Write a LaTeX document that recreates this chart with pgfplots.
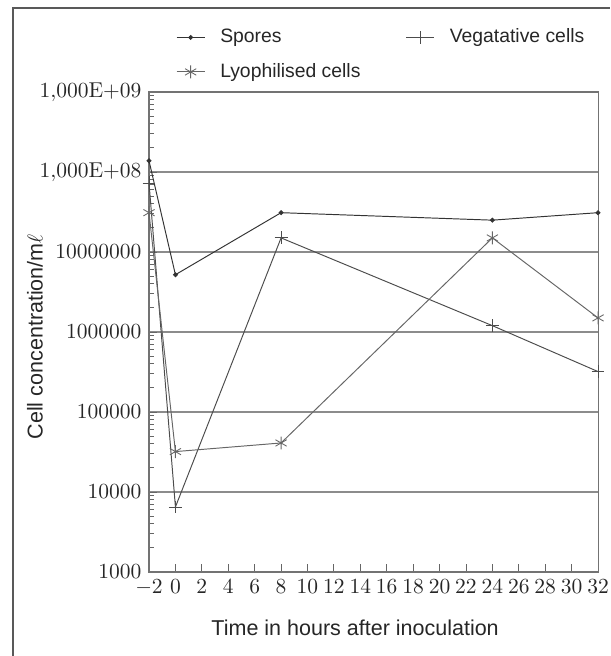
\documentclass[border=0pt]{standalone}
\usepackage{pgfplots}
\pgfplotsset{compat=1.18}
\usepackage[no-math]{fontspec}
\setmainfont{Liberation Sans}
\begin{document}
\begin{tikzpicture}
\useasboundingbox (0,0) rectangle (283.65pt,305.04pt);
\draw[line width=1.1pt, black!65] (6.0pt,0pt) -- (6.0pt,301.3pt) -- (283.65pt,301.3pt);
\begin{axis}[
  at={(69.29pt,39.06pt)}, anchor=south west,
  scale only axis, width=208.8pt, height=223.2pt,
  ymode=log, xmin=-2, xmax=32, ymin=1e3, ymax=1e9,
  xtick={-2,0,2,...,32},
  ytick={1e3,1e4,1e5,1e6,1e7,1e8,1e9},
  yticklabels={$1000$,$10000$,$100000$,$1000000$,$10000000$,$1{,}000\mathrm{E}{+}08$,$1{,}000\mathrm{E}{+}09$},
  tick align=inside,
  major tick length=3.5pt, minor tick length=2.2pt,
  xtick pos=bottom, ytick pos=left,
  tick style={black!60, line width=0.4pt},
  ymajorgrids, grid style={black!45, line width=0.5pt},
  axis line style={black!55, line width=0.5pt},
  tick label style={font=\fontsize{10}{12}\selectfont, black!85},
  xlabel={Time in hours after inoculation},
  ylabel={Cell concentration/m$\ell$},
  label style={font=\fontsize{10}{12}\selectfont, black!85},
  xlabel style={at={(axis description cs:0.459,-0.117)}, anchor=center},
  ylabel style={at={(axis description cs:-0.254,0.49)}, anchor=center, rotate=0},
  legend columns=2,
  legend cell align=left,
  legend style={draw=none, fill=none, at={(0.045,1.005)}, anchor=south west,
    font=\fontsize{9}{11}\selectfont, text=black!85, row sep=4pt,
    /tikz/every odd column/.append style={column sep=5pt},
    /tikz/every even column/.append style={column sep=19pt}},
  legend image code/.code={\draw[mark repeat=2,mark phase=2] plot coordinates {(0cm,0cm)(0.23cm,0cm)(0.46cm,0cm)};},
  clip=false,
]
\addplot[black!80, line width=0.45pt, mark=*, mark size=0.9pt] coordinates {(-2,1.38e8)(0,5.2e6)(8,3.1e7)(24,2.5e7)(32,3.1e7)};
\addlegendentry{Spores}
\addplot[black!70, line width=0.45pt, mark=+, mark size=3pt, mark options={line width=0.4pt}] coordinates {(-2,7.3e7)(0,6.5e3)(8,1.5e7)(24,1.2e6)(32,3.2e5)};
\addlegendentry{Vegatative cells}
\addplot[black!60, line width=0.45pt, mark=asterisk, mark size=3pt, mark options={line width=0.4pt}] coordinates {(-2,3.1e7)(0,3.2e4)(8,4.1e4)(24,1.5e7)(32,1.5e6)};
\addlegendentry{Lyophilised cells}
\end{axis}
\end{tikzpicture}
\end{document}
